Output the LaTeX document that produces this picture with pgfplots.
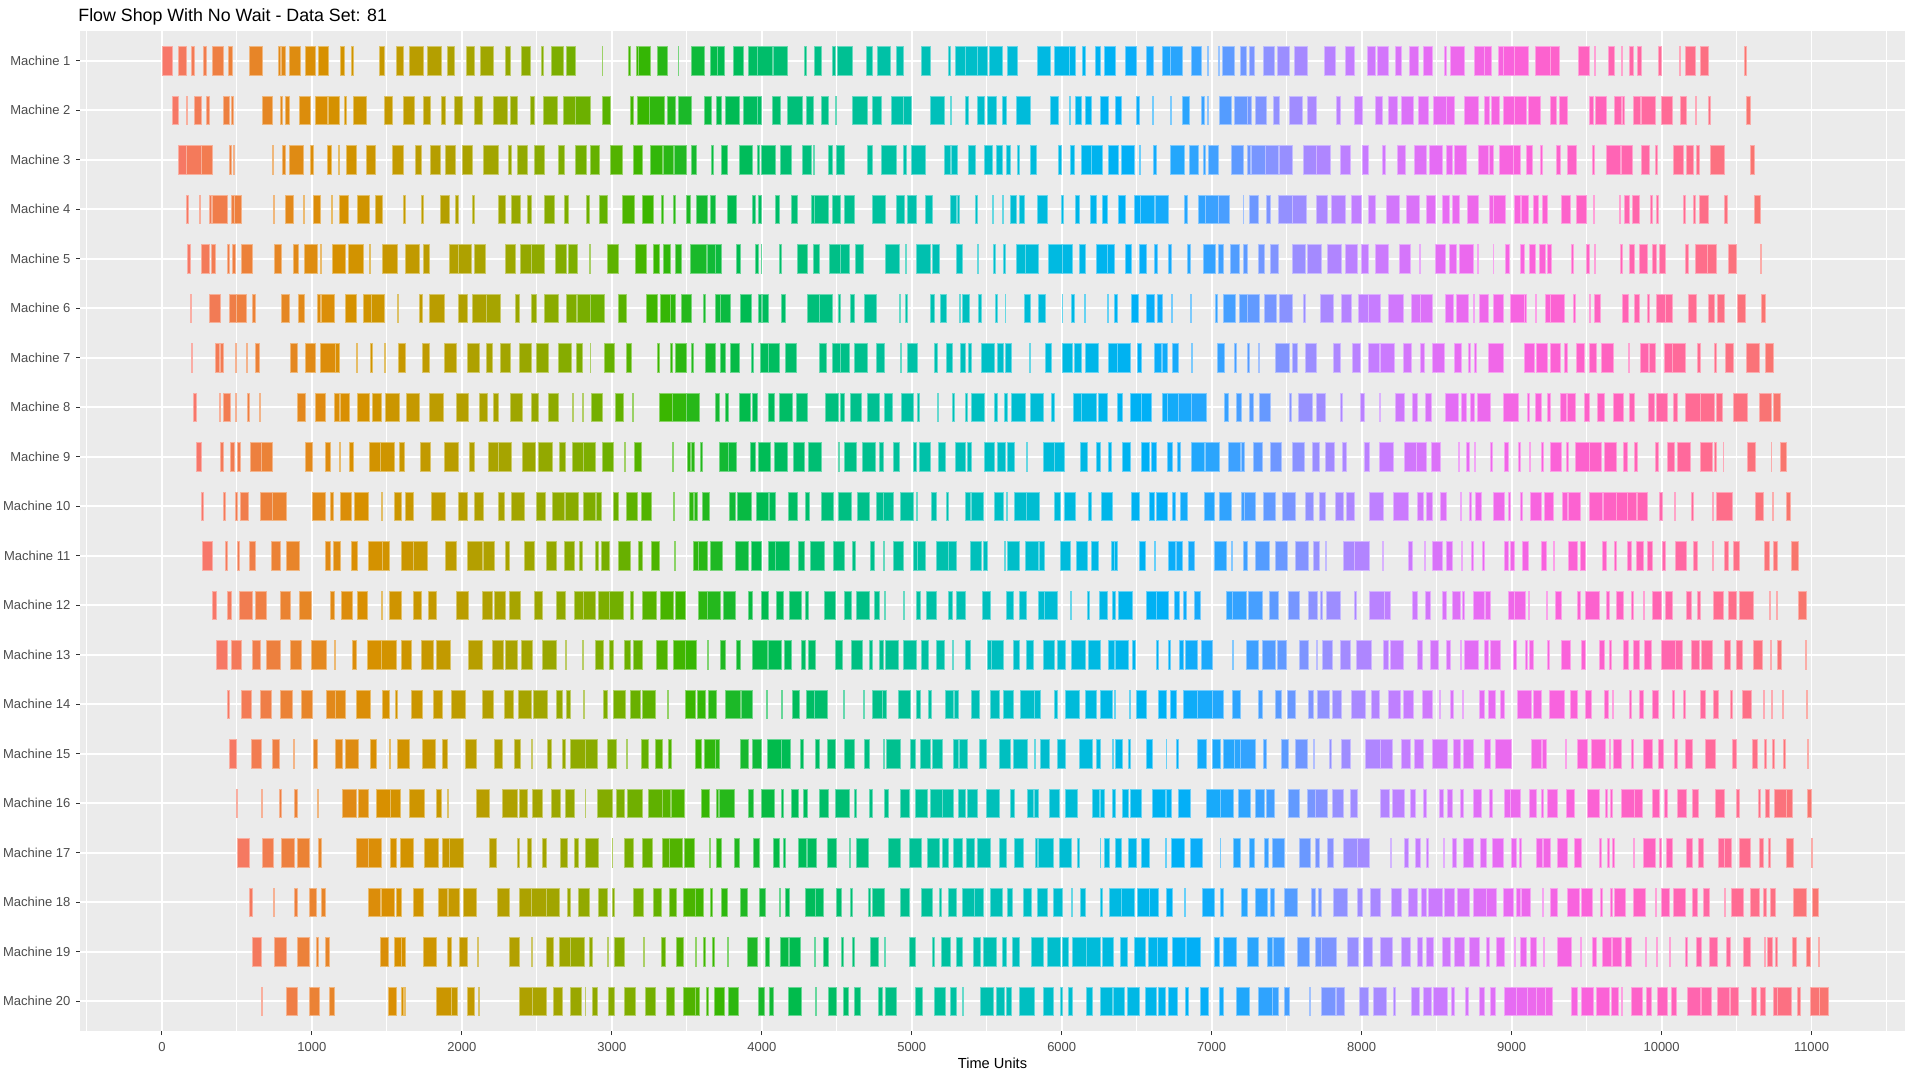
\documentclass[border=0pt]{standalone}
\usepackage{pgfplots}
\pgfplotsset{compat=1.18}
\usepackage{fontspec}
\setmainfont{Liberation Sans}
\definecolor{panelbg}{RGB}{235,235,235}
\definecolor{ticktext}{RGB}{77,77,77}
\definecolor{tickmark}{RGB}{51,51,51}
\pgfplotsset{
  colormap={gghue}{rgb255=(248,118,109) rgb255=(234,131,49) rgb255=(216,144,0) rgb255=(192,155,0) rgb255=(163,165,0) rgb255=(124,174,0) rgb255=(57,182,0) rgb255=(0,187,78) rgb255=(0,191,125) rgb255=(0,193,163) rgb255=(0,191,196) rgb255=(0,186,224) rgb255=(0,176,246) rgb255=(53,162,255) rgb255=(149,144,255) rgb255=(199,124,255) rgb255=(231,107,243) rgb255=(250,98,219) rgb255=(255,98,188) rgb255=(255,108,145) rgb255=(248,118,109)},
  gantt/.style={
    scatter, only marks, mark=|, mark size=0pt,
    point meta={\thisrow{a}+0.5*\thisrow{w}-#1},
    visualization depends on={\thisrow{w}\as\barw},
    scatter/@pre marker code/.append code={%
      \filldraw[fill=mapped color, draw=mapped color!60!white, line width=0.3pt]
        (axis direction cs:0,-0.285) rectangle (axis direction cs:\barw,0.285);
    },
  },
}
\begin{document}
\begin{tikzpicture}
\useasboundingbox (-40pt,-24.5pt) rectangle (920pt,515.5pt);
\fill[white] (-40pt,-24.5pt) rectangle (920pt,515.5pt);
\begin{axis}[
  at={(0,0)}, anchor=south west,
  scale only axis, width=912.5pt, height=500pt,
  xmin=-546, xmax=11623, ymin=0.4, ymax=20.6, y dir=reverse,
  axis background/.style={fill=panelbg},
  axis line style={draw=none},
  scaled x ticks=false,
  xtick={0,1000,...,11000},
  minor xtick={-500,500,...,11500},
  ytick={1,...,20},
  yticklabels={Machine 1,Machine 2,Machine 3,Machine 4,Machine 5,Machine 6,Machine 7,Machine 8,Machine 9,Machine 10,Machine 11,Machine 12,Machine 13,Machine 14,Machine 15,Machine 16,Machine 17,Machine 18,Machine 19,Machine 20},
  xmajorgrids, ymajorgrids, xminorgrids,
  major grid style={white, line width=0.9pt},
  minor grid style={white, line width=0.45pt},
  tick align=outside, tick pos=left,
  major tick length=2pt, minor tick length=0pt,
  tick style={tickmark, line width=0.4pt},
  tick label style={font=\fontsize{6.5}{7.5}\selectfont, text=ticktext},
  /pgf/number format/assume math mode=true,
  xticklabel style={/pgf/number format/1000 sep={}},
  xticklabel shift=0.3pt, yticklabel shift=-0.7pt,
  xlabel={Time Units},
  every axis x label/.style={at={(axis description cs:0.5,0)}, anchor=center, yshift=-16pt, font=\fontsize{7.3}{8}\selectfont, text=black},
  title={Flow Shop With No Wait - Data Set: 81},
  every axis title/.style={at={(axis description cs:0,1)}, anchor=base west, inner sep=0pt, xshift=-1pt, yshift=4.8pt, font=\fontsize{8.9}{10}\selectfont, text=black},
  colormap name=gghue,
  point meta min=0, point meta max=10600,
]
% Machine 1
\addplot[gantt=0] table[x=a, y expr=1, row sep=\\] {a w\\
0 70\\ 109 53\\ 199 17\\ 276 17\\ 339 71\\ 446 22\\ 585 85\\ 779 10\\ 793 27\\ 852 68\\ 953 73\\ 1043 68\\ 1191 22\\ 1262 12\\ 1451 34\\ 1565 44\\ 1650 92\\ 1771 90\\ 1905 46\\ 2031 49\\ 2121 87\\ 2293 32\\ 2395 61\\ 2531 12\\ 2594 83\\ 2696 61\\ 2934 5\\ 3109 17\\ 3160 14\\ 3179 75\\ 3303 68\\ 3441 5\\ 3533 85\\ 3660 41\\ 3705 47\\ 3813 65\\ 3910 61\\ 3971 97\\ 4077 93\\ 4284 14\\ 4349 49\\ 4470 20\\ 4502 100\\ 4696 41\\ 4771 85\\ 4898 46\\ 5065 58\\ 5247 10\\ 5293 61\\ 5354 85\\ 5439 65\\ 5516 88\\ 5640 66\\ 5834 88\\ 5953 100\\ 6053 39\\ 6135 25\\ 6225 32\\ 6281 75\\ 6422 75\\ 6567 42\\ 6669 58\\ 6727 78\\ 6861 71\\ 6973 5\\ 7046 7\\ 7070 80\\ 7194 38\\ 7249 37\\ 7344 75\\ 7439 76\\ 7554 82\\ 7754 71\\ 7892 57\\ 8040 54\\ 8106 72\\ 8227 39\\ 8318 57\\ 8412 61\\ 8552 12\\ 8591 96\\ 8751 67\\ 8818 47\\ 8912 32\\ 8944 76\\ 9020 91\\ 9160 96\\ 9256 64\\ 9446 69\\ 9552 7\\ 9646 41\\ 9732 5\\ 9784 24\\ 9838 27\\ 9976 22\\ 10116 10\\ 10158 64\\ 10256 57\\ 10552 12\\
};
% Machine 2
\addplot[gantt=27.5] table[x=a, y expr=2, row sep=\\] {a w\\
70 39\\ 162 5\\ 213 49\\ 296 19\\ 410 39\\ 466 9\\ 670 63\\ 791 12\\ 820 27\\ 919 73\\ 1026 78\\ 1111 71\\ 1213 15\\ 1274 87\\ 1485 53\\ 1609 77\\ 1742 49\\ 1861 27\\ 1951 51\\ 2080 58\\ 2211 94\\ 2325 48\\ 2456 27\\ 2546 92\\ 2677 77\\ 2754 100\\ 2936 54\\ 3126 19\\ 3172 80\\ 3252 97\\ 3371 51\\ 3444 87\\ 3618 44\\ 3696 32\\ 3755 97\\ 3878 92\\ 3970 29\\ 4068 55\\ 4172 99\\ 4298 46\\ 4398 46\\ 4490 10\\ 4602 99\\ 4737 59\\ 4861 83\\ 4944 51\\ 5123 95\\ 5257 7\\ 5354 24\\ 5439 44\\ 5504 59\\ 5606 27\\ 5699 92\\ 5922 58\\ 6053 5\\ 6092 36\\ 6160 36\\ 6254 54\\ 6356 44\\ 6497 17\\ 6606 7\\ 6727 5\\ 6805 44\\ 6932 17\\ 6970 8\\ 7048 82\\ 7152 85\\ 7237 29\\ 7288 73\\ 7414 37\\ 7518 88\\ 7638 57\\ 7828 29\\ 7951 52\\ 8094 42\\ 8180 57\\ 8266 79\\ 8377 69\\ 8476 86\\ 8562 57\\ 8687 92\\ 8818 35\\ 8865 54\\ 8946 69\\ 9015 84\\ 9114 78\\ 9259 39\\ 9320 50\\ 9518 24\\ 9559 74\\ 9687 47\\ 9739 10\\ 9811 49\\ 9867 89\\ 10000 74\\ 10126 37\\ 10224 5\\ 10313 12\\ 10567 25\\
};
% Machine 3
\addplot[gantt=55] table[x=a, y expr=3, row sep=\\] {a w\\
109 56\\ 165 97\\ 262 73\\ 451 12\\ 473 7\\ 733 12\\ 803 22\\ 849 92\\ 992 17\\ 1104 24\\ 1179 5\\ 1228 70\\ 1364 56\\ 1538 71\\ 1689 41\\ 1793 66\\ 1893 63\\ 2002 70\\ 2140 100\\ 2308 24\\ 2373 66\\ 2483 70\\ 2640 46\\ 2759 71\\ 2854 65\\ 2990 80\\ 3143 58\\ 3254 85\\ 3346 64\\ 3419 75\\ 3528 37\\ 3662 12\\ 3728 41\\ 3852 87\\ 3970 13\\ 3997 92\\ 4123 73\\ 4269 61\\ 4342 7\\ 4444 24\\ 4500 48\\ 4701 39\\ 4796 99\\ 4944 22\\ 4997 90\\ 5218 36\\ 5262 43\\ 5376 48\\ 5483 55\\ 5563 41\\ 5631 26\\ 5706 14\\ 5791 41\\ 5980 20\\ 6058 29\\ 6128 66\\ 6194 77\\ 6310 66\\ 6400 85\\ 6514 12\\ 6613 15\\ 6727 90\\ 6849 61\\ 6946 8\\ 6980 63\\ 7130 78\\ 7235 22\\ 7264 92\\ 7356 85\\ 7453 84\\ 7611 84\\ 7695 98\\ 7860 66\\ 8003 39\\ 8138 22\\ 8239 54\\ 8348 83\\ 8449 86\\ 8567 37\\ 8619 81\\ 8779 64\\ 8853 22\\ 8919 94\\ 9013 46\\ 9101 40\\ 9192 13\\ 9301 24\\ 9372 59\\ 9540 10\\ 9633 89\\ 9734 69\\ 9862 59\\ 9958 10\\ 10077 66\\ 10163 47\\ 10229 25\\ 10325 94\\ 10591 25\\
};
% Machine 4
\addplot[gantt=82.5] table[x=a, y expr=4, row sep=\\] {a w\\
165 9\\ 252 7\\ 315 15\\ 339 95\\ 466 17\\ 485 46\\ 743 7\\ 825 51\\ 941 10\\ 1009 49\\ 1128 10\\ 1184 61\\ 1301 80\\ 1420 48\\ 1611 10\\ 1730 12\\ 1859 58\\ 1958 17\\ 2072 12\\ 2240 53\\ 2332 58\\ 2439 22\\ 2553 65\\ 2686 27\\ 2830 17\\ 2919 51\\ 3070 83\\ 3201 73\\ 3332 12\\ 3407 15\\ 3494 30\\ 3565 70\\ 3660 28\\ 3769 61\\ 3937 21\\ 3980 19\\ 4087 29\\ 4199 39\\ 4330 19\\ 4352 94\\ 4468 53\\ 4548 70\\ 4740 85\\ 4895 58\\ 4968 63\\ 5087 53\\ 5257 39\\ 5303 15\\ 5427 9\\ 5538 5\\ 5604 7\\ 5657 41\\ 5720 32\\ 5834 73\\ 6000 9\\ 6089 25\\ 6189 39\\ 6269 32\\ 6376 46\\ 6485 36\\ 6521 95\\ 6626 85\\ 6817 20\\ 6910 44\\ 6954 89\\ 7043 75\\ 7208 5\\ 7254 56\\ 7361 29\\ 7441 96\\ 7537 96\\ 7695 74\\ 7796 93\\ 7929 71\\ 8045 46\\ 8163 89\\ 8296 91\\ 8431 59\\ 8537 47\\ 8606 42\\ 8702 74\\ 8848 29\\ 8877 79\\ 9015 42\\ 9064 50\\ 9143 37\\ 9207 30\\ 9328 66\\ 9434 66\\ 9547 7\\ 9717 5\\ 9749 35\\ 9806 42\\ 9924 15\\ 9966 15\\ 10145 15\\ 10210 12\\ 10254 57\\ 10421 20\\ 10618 39\\
};
% Machine 5
\addplot[gantt=110] table[x=a, y expr=5, row sep=\\] {a w\\
172 15\\ 262 51\\ 330 26\\ 434 15\\ 471 19\\ 531 71\\ 750 46\\ 876 36\\ 949 85\\ 1058 7\\ 1138 87\\ 1245 97\\ 1381 12\\ 1470 97\\ 1623 95\\ 1745 41\\ 1917 58\\ 1975 90\\ 2084 73\\ 2293 63\\ 2393 68\\ 2461 90\\ 2621 75\\ 2713 54\\ 2847 12\\ 2970 73\\ 3155 73\\ 3276 44\\ 3342 51\\ 3424 41\\ 3526 104\\ 3638 51\\ 3689 39\\ 3830 26\\ 3958 20\\ 3995 5\\ 4116 17\\ 4238 67\\ 4344 42\\ 4449 72\\ 4521 64\\ 4621 56\\ 4825 95\\ 4956 7\\ 5031 92\\ 5140 46\\ 5296 41\\ 5436 8\\ 5543 15\\ 5611 10\\ 5698 59\\ 5757 90\\ 5910 94\\ 6004 66\\ 6114 41\\ 6228 73\\ 6301 48\\ 6422 44\\ 6519 44\\ 6614 26\\ 6711 21\\ 6837 22\\ 6946 80\\ 7041 39\\ 7121 60\\ 7208 32\\ 7310 44\\ 7390 56\\ 7540 81\\ 7636 93\\ 7769 96\\ 7889 84\\ 8000 45\\ 8091 89\\ 8252 73\\ 8387 5\\ 8493 64\\ 8584 47\\ 8651 93\\ 8774 5\\ 8875 5\\ 8958 27\\ 9059 25\\ 9118 37\\ 9183 41\\ 9239 25\\ 9397 14\\ 9500 15\\ 9552 5\\ 9724 15\\ 9786 34\\ 9850 52\\ 9939 24\\ 9983 42\\ 10160 15\\ 10227 79\\ 10306 61\\ 10443 57\\ 10655 10\\
};
% Machine 6
\addplot[gantt=137.5] table[x=a, y expr=6, row sep=\\] {a w\\
189 7\\ 315 75\\ 449 48\\ 497 68\\ 604 17\\ 796 56\\ 912 37\\ 1036 17\\ 1065 85\\ 1225 68\\ 1342 53\\ 1395 85\\ 1567 10\\ 1718 19\\ 1784 99\\ 1975 63\\ 2068 92\\ 2160 94\\ 2359 22\\ 2461 36\\ 2553 87\\ 2696 66\\ 2769 87\\ 2856 97\\ 3043 53\\ 3228 77\\ 3322 66\\ 3393 31\\ 3465 68\\ 3613 10\\ 3691 32\\ 3723 66\\ 3856 76\\ 3978 19\\ 4005 38\\ 4133 24\\ 4305 81\\ 4386 87\\ 4509 15\\ 4587 32\\ 4682 82\\ 4917 5\\ 4956 17\\ 5123 29\\ 5189 44\\ 5318 7\\ 5337 44\\ 5441 20\\ 5558 15\\ 5621 5\\ 5752 39\\ 5847 43\\ 6002 5\\ 6067 15\\ 6152 8\\ 6301 9\\ 6349 24\\ 6466 43\\ 6563 53\\ 6640 32\\ 6732 5\\ 6859 7\\ 7026 8\\ 7077 78\\ 7181 54\\ 7235 80\\ 7354 78\\ 7449 86\\ 7614 12\\ 7727 84\\ 7865 69\\ 7978 64\\ 8042 81\\ 8180 96\\ 8328 64\\ 8392 76\\ 8559 55\\ 8633 79\\ 8744 7\\ 8781 62\\ 8875 71\\ 8988 94\\ 9082 19\\ 9158 5\\ 9227 34\\ 9261 89\\ 9411 15\\ 9517 5\\ 9554 40\\ 9739 42\\ 9820 32\\ 9902 15\\ 9963 59\\ 10022 52\\ 10177 57\\ 10311 39\\ 10370 49\\ 10503 56\\ 10663 25\\
};
% Machine 7
\addplot[gantt=165] table[x=a, y expr=7, row sep=\\] {a w\\
199 7\\ 356 30\\ 390 17\\ 492 5\\ 565 5\\ 624 26\\ 854 49\\ 953 68\\ 1055 100\\ 1155 31\\ 1293 8\\ 1393 9\\ 1480 8\\ 1577 49\\ 1737 47\\ 1885 78\\ 2038 78\\ 2160 46\\ 2257 65\\ 2381 80\\ 2499 78\\ 2640 90\\ 2762 38\\ 2854 5\\ 2953 66\\ 3096 37\\ 3305 12\\ 3388 17\\ 3426 71\\ 3533 12\\ 3621 70\\ 3725 29\\ 3789 60\\ 3932 9\\ 3992 54\\ 4046 70\\ 4157 76\\ 4386 41\\ 4473 51\\ 4524 61\\ 4619 84\\ 4764 54\\ 4922 7\\ 4973 61\\ 5150 19\\ 5233 39\\ 5325 29\\ 5378 17\\ 5463 88\\ 5573 38\\ 5626 36\\ 5786 5\\ 5890 41\\ 6004 68\\ 6082 51\\ 6160 85\\ 6310 61\\ 6371 85\\ 6507 22\\ 6614 53\\ 6672 34\\ 6735 41\\ 6864 5\\ 7034 50\\ 7152 15\\ 7237 12\\ 7313 7\\ 7424 94\\ 7535 39\\ 7626 71\\ 7811 46\\ 7936 57\\ 8042 74\\ 8126 93\\ 8279 54\\ 8392 27\\ 8468 86\\ 8616 47\\ 8712 12\\ 8751 15\\ 8843 103\\ 9082 71\\ 9163 76\\ 9259 64\\ 9352 18\\ 9429 54\\ 9520 44\\ 9599 79\\ 9781 5\\ 9855 54\\ 9917 44\\ 10020 54\\ 10074 84\\ 10237 19\\ 10352 15\\ 10424 54\\ 10564 84\\ 10692 50\\
};
% Machine 8
\addplot[gantt=192.5] table[x=a, y expr=8, row sep=\\] {a w\\
208 20\\ 383 7\\ 410 46\\ 490 7\\ 572 13\\ 650 5\\ 905 48\\ 1026 63\\ 1152 30\\ 1189 61\\ 1301 80\\ 1403 58\\ 1492 88\\ 1628 90\\ 1786 92\\ 1966 80\\ 2119 50\\ 2208 32\\ 2325 77\\ 2463 44\\ 2577 66\\ 2735 5\\ 2803 7\\ 2861 73\\ 3021 56\\ 3135 10\\ 3320 82\\ 3402 92\\ 3494 90\\ 3687 29\\ 3755 24\\ 3849 73\\ 3939 34\\ 4043 39\\ 4116 90\\ 4233 72\\ 4424 83\\ 4524 24\\ 4587 75\\ 4703 81\\ 4820 53\\ 4929 78\\ 5034 14\\ 5169 5\\ 5272 14\\ 5354 17\\ 5398 89\\ 5551 19\\ 5614 24\\ 5665 94\\ 5791 85\\ 5931 20\\ 6075 53\\ 6128 100\\ 6247 58\\ 6369 36\\ 6456 73\\ 6529 70\\ 6669 32\\ 6701 78\\ 6779 85\\ 6864 97\\ 7084 25\\ 7167 32\\ 7249 27\\ 7317 71\\ 7520 12\\ 7577 93\\ 7697 62\\ 7860 10\\ 7993 25\\ 8116 5\\ 8222 62\\ 8335 35\\ 8422 44\\ 8557 86\\ 8665 32\\ 8727 22\\ 8769 86\\ 8944 98\\ 9104 17\\ 9155 42\\ 9239 17\\ 9325 37\\ 9372 52\\ 9485 30\\ 9569 52\\ 9680 64\\ 9784 32\\ 9909 44\\ 9963 77\\ 10077 27\\ 10160 99\\ 10259 89\\ 10367 40\\ 10478 91\\ 10650 79\\ 10742 46\\
};
% Machine 9
\addplot[gantt=220] table[x=a, y expr=9, row sep=\\] {a w\\
230 34\\ 390 17\\ 456 29\\ 500 21\\ 587 75\\ 662 71\\ 953 49\\ 1089 32\\ 1184 7\\ 1250 26\\ 1381 77\\ 1458 90\\ 1582 36\\ 1720 71\\ 1883 95\\ 2048 34\\ 2174 68\\ 2242 90\\ 2405 85\\ 2509 93\\ 2648 41\\ 2737 73\\ 2810 83\\ 2939 70\\ 3082 10\\ 3148 46\\ 3405 7\\ 3504 17\\ 3533 20\\ 3589 17\\ 3718 61\\ 3779 53\\ 3924 34\\ 3975 80\\ 4082 90\\ 4211 75\\ 4308 87\\ 4509 5\\ 4548 85\\ 4667 92\\ 4786 27\\ 4878 39\\ 5009 22\\ 5048 78\\ 5177 48\\ 5293 66\\ 5371 27\\ 5487 61\\ 5573 48\\ 5638 48\\ 5762 7\\ 5878 75\\ 5953 63\\ 6123 49\\ 6230 29\\ 6308 24\\ 6405 53\\ 6529 53\\ 6599 32\\ 6706 34\\ 6771 17\\ 6866 83\\ 6958 92\\ 7111 82\\ 7198 22\\ 7278 61\\ 7392 74\\ 7535 84\\ 7670 47\\ 7759 59\\ 7872 25\\ 8020 32\\ 8119 91\\ 8286 81\\ 8367 62\\ 8466 56\\ 8646 7\\ 8700 17\\ 8749 10\\ 8855 17\\ 8951 25\\ 9045 10\\ 9121 5\\ 9197 17\\ 9261 72\\ 9362 13\\ 9426 94\\ 9520 79\\ 9621 74\\ 9747 24\\ 9818 17\\ 9956 22\\ 10040 47\\ 10106 86\\ 10259 76\\ 10350 12\\ 10409 5\\ 10571 55\\ 10729 5\\ 10791 39\\
};
% Machine 10
\addplot[gantt=247.5] table[x=a, y expr=10, row sep=\\] {a w\\
264 12\\ 410 12\\ 487 15\\ 526 51\\ 658 75\\ 733 99\\ 1005 84\\ 1123 20\\ 1189 73\\ 1281 95\\ 1461 7\\ 1551 46\\ 1623 54\\ 1796 94\\ 1978 58\\ 2084 56\\ 2242 44\\ 2332 82\\ 2495 63\\ 2606 80\\ 2691 88\\ 2813 75\\ 2895 34\\ 3012 31\\ 3094 75\\ 3194 70\\ 3412 7\\ 3516 25\\ 3553 19\\ 3606 46\\ 3781 44\\ 3835 92\\ 3961 82\\ 4053 39\\ 4174 66\\ 4288 32\\ 4398 77\\ 4512 87\\ 4636 84\\ 4762 51\\ 4813 63\\ 4922 87\\ 5029 5\\ 5131 31\\ 5228 17\\ 5359 31\\ 5398 77\\ 5551 60\\ 5631 7\\ 5686 76\\ 5767 85\\ 5953 37\\ 6019 73\\ 6174 22\\ 6261 78\\ 6461 53\\ 6584 32\\ 6633 73\\ 6740 19\\ 6788 49\\ 6951 63\\ 7053 77\\ 7196 19\\ 7220 68\\ 7342 80\\ 7468 89\\ 7621 59\\ 7719 40\\ 7821 56\\ 7899 54\\ 8054 89\\ 8212 96\\ 8372 40\\ 8431 40\\ 8525 39\\ 8655 10\\ 8720 9\\ 8759 39\\ 8877 74\\ 8981 9\\ 9055 14\\ 9126 69\\ 9220 56\\ 9335 37\\ 9380 78\\ 9520 84\\ 9611 84\\ 9695 79\\ 9774 59\\ 9838 66\\ 9983 22\\ 10084 10\\ 10197 15\\ 10340 5\\ 10362 111\\ 10626 54\\ 10739 5\\ 10830 30\\
};
% Machine 11
\addplot[gantt=275] table[x=a, y expr=11, row sep=\\] {a w\\
272 65\\ 422 17\\ 502 12\\ 580 41\\ 730 58\\ 832 87\\ 1089 32\\ 1143 48\\ 1264 39\\ 1376 92\\ 1468 49\\ 1599 80\\ 1679 92\\ 1893 68\\ 2038 100\\ 2140 78\\ 2288 27\\ 2417 68\\ 2560 73\\ 2686 63\\ 2781 24\\ 2888 22\\ 2929 51\\ 3043 80\\ 3174 32\\ 3266 54\\ 3419 7\\ 3541 34\\ 3575 63\\ 3655 85\\ 3825 82\\ 3929 68\\ 4043 46\\ 4089 93\\ 4242 44\\ 4322 97\\ 4478 70\\ 4604 22\\ 4723 24\\ 4813 5\\ 4876 68\\ 5012 24\\ 5036 53\\ 5162 85\\ 5247 51\\ 5388 75\\ 5478 29\\ 5616 7\\ 5638 78\\ 5757 85\\ 5852 31\\ 5990 65\\ 6094 75\\ 6199 48\\ 6332 17\\ 6349 24\\ 6516 42\\ 6619 7\\ 6711 43\\ 6762 43\\ 6842 39\\ 7014 83\\ 7133 7\\ 7213 27\\ 7288 95\\ 7421 84\\ 7557 84\\ 7680 40\\ 7759 5\\ 7880 73\\ 7953 97\\ 8138 8\\ 8311 27\\ 8416 8\\ 8473 62\\ 8567 34\\ 8665 5\\ 8729 15\\ 8801 17\\ 8954 22\\ 8988 27\\ 9072 37\\ 9197 35\\ 9276 10\\ 9375 64\\ 9461 27\\ 9604 24\\ 9685 10\\ 9771 30\\ 9828 47\\ 9907 29\\ 10005 17\\ 10094 71\\ 10212 25\\ 10338 5\\ 10416 27\\ 10476 41\\ 10682 37\\ 10742 27\\ 10862 47\\
};
% Machine 12
\addplot[gantt=302.5] table[x=a, y expr=12, row sep=\\] {a w\\
339 22\\ 439 22\\ 514 90\\ 623 76\\ 788 71\\ 919 78\\ 1123 29\\ 1194 73\\ 1303 66\\ 1466 5\\ 1519 80\\ 1677 51\\ 1774 53\\ 1963 80\\ 2138 68\\ 2218 73\\ 2317 76\\ 2485 49\\ 2633 58\\ 2752 56\\ 2808 82\\ 2912 71\\ 2983 94\\ 3123 17\\ 3206 92\\ 3325 85\\ 3426 64\\ 3575 60\\ 3635 88\\ 3742 83\\ 3910 27\\ 3999 47\\ 4094 51\\ 4182 80\\ 4288 22\\ 4419 73\\ 4551 48\\ 4628 90\\ 4750 34\\ 4820 5\\ 4946 5\\ 5031 29\\ 5094 68\\ 5247 22\\ 5300 54\\ 5468 58\\ 5628 49\\ 5718 44\\ 5844 41\\ 5885 88\\ 6060 5\\ 6169 15\\ 6252 53\\ 6339 20\\ 6376 97\\ 6563 68\\ 6631 82\\ 6752 29\\ 6808 22\\ 6883 44\\ 7097 43\\ 7140 92\\ 7242 97\\ 7385 56\\ 7508 79\\ 7643 59\\ 7724 13\\ 7761 99\\ 7953 13\\ 8052 98\\ 8150 38\\ 8340 30\\ 8426 30\\ 8540 22\\ 8604 56\\ 8673 12\\ 8747 69\\ 8823 32\\ 8976 42\\ 9018 76\\ 9114 5\\ 9232 7\\ 9288 45\\ 9439 22\\ 9488 94\\ 9631 20\\ 9697 47\\ 9801 10\\ 9877 7\\ 9939 59\\ 10025 44\\ 10165 32\\ 10237 22\\ 10343 71\\ 10443 52\\ 10517 92\\ 10717 7\\ 10766 5\\ 10912 51\\
};
% Machine 13
\addplot[gantt=330] table[x=a, y expr=13, row sep=\\] {a w\\
364 73\\ 463 66\\ 606 51\\ 699 92\\ 859 70\\ 997 97\\ 1152 5\\ 1267 29\\ 1369 97\\ 1466 94\\ 1599 66\\ 1730 78\\ 1832 92\\ 2046 89\\ 2206 70\\ 2293 80\\ 2395 78\\ 2534 94\\ 2691 5\\ 2805 5\\ 2893 50\\ 2980 27\\ 3080 41\\ 3143 58\\ 3300 73\\ 3412 75\\ 3487 78\\ 3635 8\\ 3723 34\\ 3827 32\\ 3939 97\\ 4046 82\\ 4148 51\\ 4262 31\\ 4310 44\\ 4492 46\\ 4599 71\\ 4718 17\\ 4784 24\\ 4822 85\\ 4946 83\\ 5063 46\\ 5165 55\\ 5269 10\\ 5354 39\\ 5507 24\\ 5531 80\\ 5677 43\\ 5764 49\\ 5880 73\\ 5973 51\\ 6063 92\\ 6179 80\\ 6308 41\\ 6356 88\\ 6473 19\\ 6628 19\\ 6713 10\\ 6781 29\\ 6827 80\\ 6929 78\\ 7138 5\\ 7232 76\\ 7339 87\\ 7436 64\\ 7586 60\\ 7700 7\\ 7737 64\\ 7860 64\\ 7966 98\\ 8146 29\\ 8190 86\\ 8370 32\\ 8456 57\\ 8564 25\\ 8658 5\\ 8685 94\\ 8816 27\\ 8855 66\\ 9013 19\\ 9094 10\\ 9119 24\\ 9239 12\\ 9333 56\\ 9463 27\\ 9582 34\\ 9653 12\\ 9747 34\\ 9808 42\\ 9882 52\\ 9998 92\\ 10090 51\\ 10200 54\\ 10264 74\\ 10416 40\\ 10495 40\\ 10611 62\\ 10724 5\\ 10769 32\\ 10961 5\\
};
% Machine 14
\addplot[gantt=357.5] table[x=a, y expr=14, row sep=\\] {a w\\
437 14\\ 531 63\\ 657 73\\ 791 80\\ 932 72\\ 1094 61\\ 1155 65\\ 1293 95\\ 1468 46\\ 1558 9\\ 1665 70\\ 1810 59\\ 1927 97\\ 2138 75\\ 2281 63\\ 2376 90\\ 2475 93\\ 2630 37\\ 2696 27\\ 2810 7\\ 2943 30\\ 3007 85\\ 3121 70\\ 3203 87\\ 3373 5\\ 3492 68\\ 3567 54\\ 3643 56\\ 3759 95\\ 3861 76\\ 4031 5\\ 4131 5\\ 4204 48\\ 4296 55\\ 4351 83\\ 4543 5\\ 4674 10\\ 4735 66\\ 4803 29\\ 4907 80\\ 5029 29\\ 5111 22\\ 5223 56\\ 5284 29\\ 5395 58\\ 5524 60\\ 5613 64\\ 5723 92\\ 5815 41\\ 5953 15\\ 6026 88\\ 6155 78\\ 6259 78\\ 6351 5\\ 6449 5\\ 6495 72\\ 6647 49\\ 6723 44\\ 6813 94\\ 6907 97\\ 7004 76\\ 7135 58\\ 7308 31\\ 7424 39\\ 7503 56\\ 7646 29\\ 7707 76\\ 7806 59\\ 7929 96\\ 8067 52\\ 8178 81\\ 8279 66\\ 8404 67\\ 8515 7\\ 8591 20\\ 8668 7\\ 8781 35\\ 8845 47\\ 8924 25\\ 9035 93\\ 9143 57\\ 9254 96\\ 9392 47\\ 9493 37\\ 9621 25\\ 9668 7\\ 9786 15\\ 9852 23\\ 9939 39\\ 10072 10\\ 10143 12\\ 10256 35\\ 10343 32\\ 10456 15\\ 10540 61\\ 10677 8\\ 10729 8\\ 10803 8\\ 10968 5\\
};
% Machine 15
\addplot[gantt=385] table[x=a, y expr=15, row sep=\\] {a w\\
449 48\\ 597 63\\ 733 48\\ 873 10\\ 1007 31\\ 1155 46\\ 1223 85\\ 1390 42\\ 1517 7\\ 1567 81\\ 1737 88\\ 1871 32\\ 2026 73\\ 2218 53\\ 2347 41\\ 2466 5\\ 2568 31\\ 2667 22\\ 2725 97\\ 2822 80\\ 2973 60\\ 3094 10\\ 3194 46\\ 3290 49\\ 3378 20\\ 3560 34\\ 3616 74\\ 3690 26\\ 3854 56\\ 3939 56\\ 4036 95\\ 4133 58\\ 4254 20\\ 4354 32\\ 4437 53\\ 4551 68\\ 4686 30\\ 4808 7\\ 4832 92\\ 4990 32\\ 5060 61\\ 5136 65\\ 5274 39\\ 5315 56\\ 5453 44\\ 5584 71\\ 5679 90\\ 5815 7\\ 5856 59\\ 5970 56\\ 6114 89\\ 6233 21\\ 6337 7\\ 6359 46\\ 6446 12\\ 6567 37\\ 6694 5\\ 6767 9\\ 6907 54\\ 7007 53\\ 7080 70\\ 7150 43\\ 7193 97\\ 7342 22\\ 7466 42\\ 7559 77\\ 7675 10\\ 7786 12\\ 7867 57\\ 8027 96\\ 8123 82\\ 8261 64\\ 8348 64\\ 8471 101\\ 8614 42\\ 8675 69\\ 8818 37\\ 8892 103\\ 9131 66\\ 9202 32\\ 9355 7\\ 9441 61\\ 9532 91\\ 9650 10\\ 9675 54\\ 9801 12\\ 9877 59\\ 9980 32\\ 10082 22\\ 10158 49\\ 10291 66\\ 10471 24\\ 10604 37\\ 10682 13\\ 10739 12\\ 10811 17\\ 10971 5\\
};
% Machine 16
\addplot[gantt=412.5] table[x=a, y expr=16, row sep=\\] {a w\\
497 7\\ 662 5\\ 784 9\\ 883 17\\ 1036 10\\ 1201 92\\ 1310 68\\ 1432 89\\ 1521 68\\ 1650 97\\ 1827 39\\ 1902 10\\ 2099 87\\ 2271 97\\ 2385 51\\ 2473 65\\ 2599 58\\ 2689 63\\ 2820 5\\ 2905 95\\ 3033 51\\ 3106 97\\ 3240 97\\ 3337 51\\ 3398 87\\ 3597 51\\ 3699 9\\ 3716 99\\ 3910 36\\ 3999 83\\ 4128 17\\ 4194 51\\ 4274 31\\ 4386 55\\ 4492 90\\ 4619 12\\ 4716 19\\ 4815 29\\ 4924 61\\ 5024 80\\ 5123 78\\ 5201 73\\ 5313 43\\ 5371 65\\ 5499 88\\ 5657 27\\ 5769 44\\ 5818 26\\ 5915 70\\ 6026 80\\ 6206 46\\ 6254 27\\ 6339 20\\ 6402 44\\ 6458 71\\ 6606 83\\ 6696 34\\ 6776 80\\ 6961 94\\ 7055 88\\ 7177 82\\ 7291 63\\ 7366 51\\ 7508 79\\ 7636 54\\ 7690 84\\ 7801 79\\ 7926 45\\ 8121 64\\ 8205 76\\ 8325 35\\ 8412 17\\ 8520 25\\ 8572 32\\ 8656 22\\ 8747 49\\ 8852 20\\ 8951 39\\ 8990 65\\ 9116 49\\ 9197 15\\ 9237 69\\ 9365 56\\ 9505 81\\ 9626 15\\ 9658 15\\ 9732 84\\ 9816 56\\ 9939 46\\ 10015 20\\ 10104 61\\ 10207 37\\ 10360 59\\ 10495 25\\ 10643 12\\ 10692 25\\ 10749 81\\ 10830 40\\ 10971 27\\
};
% Machine 17
\addplot[gantt=440] table[x=a, y expr=17, row sep=\\] {a w\\
502 83\\ 667 78\\ 796 85\\ 903 77\\ 1046 19\\ 1296 80\\ 1376 87\\ 1524 41\\ 1592 82\\ 1750 92\\ 1869 48\\ 1917 92\\ 2186 46\\ 2371 12\\ 2436 30\\ 2538 25\\ 2657 46\\ 2752 22\\ 2825 85\\ 3000 5\\ 3084 56\\ 3203 68\\ 3337 46\\ 3383 90\\ 3485 68\\ 3648 9\\ 3699 31\\ 3815 37\\ 3944 41\\ 4080 39\\ 4143 17\\ 4242 54\\ 4305 59\\ 4439 61\\ 4582 7\\ 4628 85\\ 4844 78\\ 4985 78\\ 5104 78\\ 5201 41\\ 5274 63\\ 5361 54\\ 5436 88\\ 5587 46\\ 5684 58\\ 5822 15\\ 5844 97\\ 5985 78\\ 6106 12\\ 6254 5\\ 6284 31\\ 6359 36\\ 6446 53\\ 6529 55\\ 6689 7\\ 6728 89\\ 6856 78\\ 7055 5\\ 7143 50\\ 7254 32\\ 7354 24\\ 7402 81\\ 7587 73\\ 7688 27\\ 7774 34\\ 7880 88\\ 7968 86\\ 8188 9\\ 8281 27\\ 8360 34\\ 8429 15\\ 8545 5\\ 8604 29\\ 8678 66\\ 8793 35\\ 8872 74\\ 8995 35\\ 9052 15\\ 9165 40\\ 9210 47\\ 9303 67\\ 9419 47\\ 9584 12\\ 9641 12\\ 9673 12\\ 9808 8\\ 9875 81\\ 9983 15\\ 10030 42\\ 10163 39\\ 10244 32\\ 10377 42\\ 10419 44\\ 10517 72\\ 10653 24\\ 10712 10\\ 10830 49\\ 10998 7\\
};
% Machine 18
\addplot[gantt=467.5] table[x=a, y expr=18, row sep=\\] {a w\\
585 17\\ 745 5\\ 883 17\\ 980 51\\ 1065 27\\ 1378 80\\ 1466 82\\ 1565 32\\ 1677 65\\ 1842 58\\ 1912 73\\ 2012 87\\ 2235 80\\ 2380 86\\ 2466 97\\ 2563 89\\ 2706 14\\ 2776 73\\ 2912 56\\ 3002 12\\ 3140 68\\ 3274 53\\ 3385 46\\ 3475 80\\ 3555 58\\ 3657 10\\ 3730 39\\ 3854 49\\ 3985 39\\ 4119 7\\ 4157 29\\ 4291 63\\ 4354 56\\ 4500 27\\ 4587 15\\ 4713 10\\ 4737 81\\ 4924 61\\ 5065 71\\ 5184 10\\ 5245 55\\ 5339 76\\ 5415 65\\ 5524 77\\ 5636 34\\ 5745 55\\ 5839 66\\ 5944 61\\ 6065 8\\ 6121 39\\ 6259 10\\ 6317 78\\ 6395 87\\ 6502 80\\ 6584 61\\ 6699 41\\ 6817 10\\ 6936 78\\ 7060 20\\ 7196 44\\ 7288 80\\ 7388 27\\ 7486 83\\ 7663 27\\ 7712 22\\ 7811 91\\ 7971 34\\ 8059 62\\ 8197 67\\ 8311 61\\ 8397 34\\ 8446 89\\ 8552 64\\ 8636 81\\ 8747 81\\ 8828 69\\ 8946 64\\ 9030 29\\ 9067 56\\ 9205 9\\ 9259 47\\ 9372 81\\ 9466 69\\ 9594 10\\ 9658 10\\ 9683 76\\ 9813 79\\ 9956 10\\ 9998 56\\ 10077 83\\ 10205 32\\ 10278 40\\ 10419 7\\ 10466 79\\ 10591 59\\ 10677 23\\ 10724 37\\ 10879 84\\ 11005 42\\
};
% Machine 19
\addplot[gantt=495] table[x=a, y expr=19, row sep=\\] {a w\\
604 56\\ 750 82\\ 903 82\\ 1031 10\\ 1092 22\\ 1458 51\\ 1551 43\\ 1594 27\\ 1742 88\\ 1900 29\\ 1985 49\\ 2101 10\\ 2315 65\\ 2466 5\\ 2565 44\\ 2652 71\\ 2723 95\\ 2849 22\\ 2968 7\\ 3016 66\\ 3208 10\\ 3327 32\\ 3431 49\\ 3555 10\\ 3613 13\\ 3667 17\\ 3769 7\\ 3905 68\\ 4021 32\\ 4126 48\\ 4186 73\\ 4349 7\\ 4410 31\\ 4527 14\\ 4602 12\\ 4723 56\\ 4818 5\\ 4985 39\\ 5136 12\\ 5196 58\\ 5300 37\\ 5410 48\\ 5480 85\\ 5604 24\\ 5670 50\\ 5800 78\\ 5905 85\\ 6002 41\\ 6072 90\\ 6162 97\\ 6269 75\\ 6390 46\\ 6482 76\\ 6580 58\\ 6640 63\\ 6740 82\\ 6832 92\\ 7014 36\\ 7080 82\\ 7240 68\\ 7373 34\\ 7410 75\\ 7574 77\\ 7692 42\\ 7734 96\\ 7904 74\\ 8008 66\\ 8126 76\\ 8266 59\\ 8372 35\\ 8431 45\\ 8537 57\\ 8619 66\\ 8720 66\\ 8830 23\\ 8899 49\\ 9015 12\\ 9059 42\\ 9126 39\\ 9212 5\\ 9306 93\\ 9456 7\\ 9537 25\\ 9604 61\\ 9668 61\\ 9759 39\\ 9892 5\\ 9963 10\\ 10050 5\\ 10160 10\\ 10234 30\\ 10320 52\\ 10429 27\\ 10545 49\\ 10682 8\\ 10702 39\\ 10761 10\\ 10870 29\\ 10966 24\\ 11047 7\\
};
% Machine 20
\addplot[gantt=522.5] table[x=a, y expr=20, row sep=\\] {a w\\
660 7\\ 832 73\\ 985 65\\ 1114 34\\ 1509 56\\ 1594 17\\ 1614 7\\ 1832 95\\ 1927 46\\ 2034 48\\ 2111 7\\ 2380 88\\ 2468 97\\ 2611 56\\ 2720 76\\ 2820 5\\ 2871 31\\ 2975 41\\ 3084 73\\ 3220 68\\ 3361 56\\ 3480 80\\ 3560 22\\ 3630 13\\ 3684 63\\ 3776 66\\ 3975 42\\ 4053 24\\ 4177 87\\ 4357 5\\ 4441 56\\ 4541 34\\ 4614 46\\ 4776 27\\ 4822 78\\ 5026 42\\ 5150 73\\ 5254 44\\ 5337 10\\ 5458 88\\ 5567 49\\ 5628 39\\ 5720 95\\ 5878 63\\ 5992 12\\ 6043 29\\ 6162 39\\ 6259 78\\ 6347 68\\ 6439 77\\ 6560 73\\ 6643 48\\ 6708 63\\ 6822 22\\ 6927 51\\ 7050 25\\ 7162 87\\ 7310 92\\ 7404 42\\ 7486 29\\ 7653 5\\ 7734 91\\ 7830 52\\ 7983 59\\ 8079 84\\ 8210 14\\ 8330 57\\ 8409 54\\ 8478 91\\ 8596 20\\ 8688 22\\ 8786 32\\ 8855 34\\ 8951 79\\ 9030 76\\ 9106 59\\ 9165 59\\ 9224 45\\ 9399 37\\ 9463 81\\ 9564 89\\ 9665 45\\ 9732 5\\ 9801 69\\ 9897 37\\ 9973 67\\ 10064 32\\ 10170 91\\ 10264 64\\ 10372 79\\ 10458 50\\ 10596 35\\ 10655 35\\ 10744 30\\ 10774 88\\ 10902 25\\ 10990 62\\ 11052 57\\
};
\end{axis}
\end{tikzpicture}
\end{document}
